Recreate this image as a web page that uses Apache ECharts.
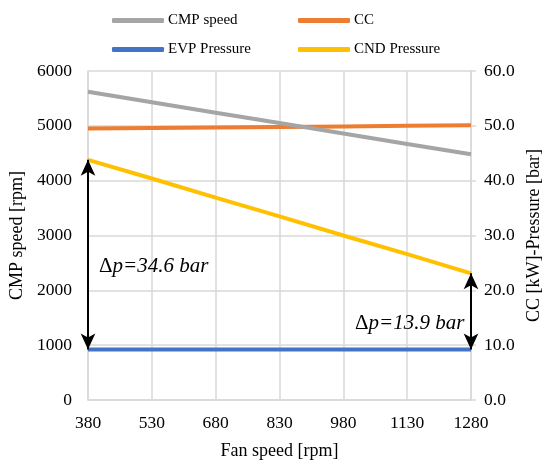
<!DOCTYPE html>
<html>
<head>
<meta charset="utf-8">
<script src="https://cdn.jsdelivr.net/npm/echarts@6/dist/echarts.min.js"></script>
<style>
html,body{margin:0;padding:0;background:#fff;}
#chart{width:546px;height:466px;}
</style>
</head>
<body>
<div id="chart"></div>
<script>
// Fan speed sweep [rpm]
const fanSpeed = ['380', '530', '680', '830', '980', '1130', '1280'];
// Compressor speed [rpm] (left axis)
const cmpSpeed = [5620, 5430, 5240, 5050, 4860, 4670, 4480];
// Cooling capacity [kW] (right axis)
const coolingCap = [49.5, 49.6, 49.7, 49.8, 49.9, 50.0, 50.1];
// Evaporator and condenser pressure [bar] (right axis)
const evpPressure = [9.2, 9.2, 9.2, 9.2, 9.2, 9.2, 9.2];
const cndPressure = [43.8, 40.4, 36.9, 33.5, 30.0, 26.6, 23.1];
// Pressure lift annotations
const deltaLow = { x: '380', label: '34.6' };
const deltaHigh = { x: '1280', label: '13.9' };

const FONT = '"Liberation Serif", "Times New Roman", serif';
const GRID = '#d9d9d9';

const chart = echarts.init(document.getElementById('chart'), null, { renderer: 'canvas' });

function legendAt(name, left, top) {
  return {
    data: [name], left: left, top: top, orient: 'horizontal',
    icon: 'roundRect', itemWidth: 52, itemHeight: 5, itemGap: 0,
    textStyle: { fontFamily: FONT, fontSize: 15, color: '#000', padding: [0, 0, 0, -1] },
    selectedMode: false
  };
}

function idx(x) { return fanSpeed.indexOf(x); }

const deltaRich = {
  d: { fontFamily: FONT, fontSize: 21, fill: '#000' },
  i: { fontFamily: FONT, fontSize: 21, fontStyle: 'italic', fill: '#000' }
};

const option = {
  animation: false,
  textStyle: { fontFamily: FONT },
  legend: [
    legendAt('CMP speed', 107, 8),
    legendAt('CC', 293, 8),
    legendAt('EVP Pressure', 107, 37),
    legendAt('CND Pressure', 293, 37)
  ],
  grid: { left: 88, right: 75, top: 71, bottom: 66, containLabel: false, outerBoundsMode: 'none' },
  xAxis: {
    type: 'category', data: fanSpeed, boundaryGap: false,
    name: 'Fan speed [rpm]', nameLocation: 'middle', nameGap: 42,
    nameTextStyle: { fontFamily: FONT, fontSize: 18, color: '#000' },
    axisLine: { lineStyle: { color: GRID, width: 1.5 } },
    axisTick: { show: false },
    axisLabel: { color: '#000', fontFamily: FONT, fontSize: 17.5, margin: 14 },
    splitLine: { show: true, lineStyle: { color: GRID, width: 1.5 } }
  },
  yAxis: [
    {
      type: 'value', min: 0, max: 6000, interval: 1000,
      name: 'CMP speed [rpm]', nameLocation: 'middle', nameGap: 59,
      nameTextStyle: { fontFamily: FONT, fontSize: 18, color: '#000' },
      axisLine: { show: true, lineStyle: { color: GRID, width: 1.5 } },
      axisTick: { show: false },
      axisLabel: { color: '#000', fontFamily: FONT, fontSize: 17.5, margin: 16,
        formatter: v => String(v) },
      splitLine: { show: true, lineStyle: { color: GRID, width: 1.5 } }
    },
    {
      type: 'value', min: 0, max: 60, interval: 10,
      name: 'CC [kW]-Pressure [bar]', nameLocation: 'middle', nameGap: 54,
      nameTextStyle: { fontFamily: FONT, fontSize: 18, color: '#000' },
      axisLine: { show: true, lineStyle: { color: GRID, width: 1.5 } },
      axisTick: { show: true, length: 5, inside: false, lineStyle: { color: GRID, width: 1.5 } },
      axisLabel: { color: '#000', fontFamily: FONT, fontSize: 17.5, margin: 13,
        formatter: v => v.toFixed(1) },
      splitLine: { show: false }
    }
  ],
  series: [
    {
      name: 'CMP speed', type: 'line', yAxisIndex: 0, data: cmpSpeed,
      showSymbol: false, lineStyle: { color: '#a5a5a5', width: 4 }, itemStyle: { color: '#a5a5a5' }, z: 3
    },
    {
      name: 'CC', type: 'line', yAxisIndex: 1, data: coolingCap,
      showSymbol: false, lineStyle: { color: '#ed7d31', width: 4 }, itemStyle: { color: '#ed7d31' }, z: 2
    },
    {
      name: 'EVP Pressure', type: 'line', yAxisIndex: 1, data: evpPressure,
      showSymbol: false, lineStyle: { color: '#4472c4', width: 4 }, itemStyle: { color: '#4472c4' }, z: 2
    },
    {
      name: 'CND Pressure', type: 'line', yAxisIndex: 1, data: cndPressure,
      showSymbol: false, lineStyle: { color: '#ffc000', width: 4 }, itemStyle: { color: '#ffc000' }, z: 2,
      markLine: {
        silent: true, symbol: ['arrow', 'arrow'], symbolSize: [11, 16],
        lineStyle: { color: '#000', width: 2, type: 'solid' },
        label: { show: false },
        data: [
          [{ coord: [deltaLow.x, evpPressure[idx(deltaLow.x)]] }, { coord: [deltaLow.x, cndPressure[idx(deltaLow.x)]] }],
          [{ coord: [deltaHigh.x, evpPressure[idx(deltaHigh.x)]] }, { coord: [deltaHigh.x, cndPressure[idx(deltaHigh.x)]] }]
        ]
      }
    }
  ],
  graphic: [
    {
      type: 'text', left: 99, top: 256, z: 10,
      style: { text: '{d|Δ}{i|p=' + deltaLow.label + ' bar}', rich: deltaRich }
    },
    {
      type: 'text', left: 355, top: 313, z: 10,
      style: { text: '{d|Δ}{i|p=' + deltaHigh.label + ' bar}', rich: deltaRich }
    }
  ]
};

chart.setOption(option);
</script>
</body>
</html>
